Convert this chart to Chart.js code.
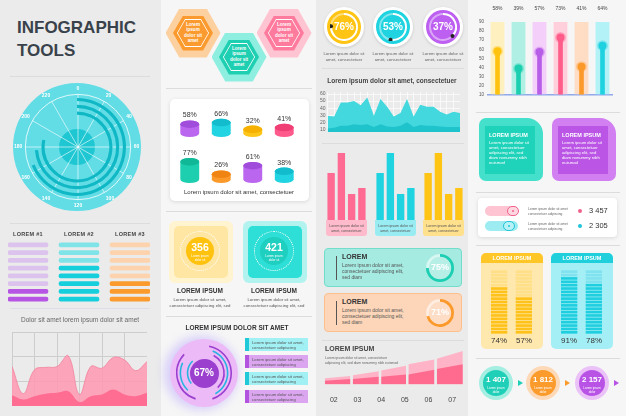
<!DOCTYPE html>
<html lang="en">
<head>
<meta charset="UTF-8">
<title>Infographic Tools</title>
<script src="https://cdn.jsdelivr.net/npm/chart.js"></script>
<style>
  body {
    margin: 0;
    width: 626px;
    height: 416px;
    overflow: hidden;
    position: relative;
    background: #ebebeb;
    font-family: "Liberation Sans", Arial, sans-serif;
    color: #333;
  }
  .t { position: absolute; white-space: nowrap; }
</style>
</head>
<body>
<script>
// ---------- data ----------
const radialTicks = ['0', '20', '40', '60', '80', '100', '120', '140', '160', '180', '200', '220'];
const radialMax = 240;
const radialArcs = [165, 177, 188]; // outer -> inner

const levelTitles = ['LOREM #1', 'LOREM #2', 'LOREM #3'];
const levelRows = ['1', '2', '3', '4', '5', '6', '7', '8'];
const levelFilled = [2, 5, 3];

const waveUpper = [48, 15, 44, 47, 48, 61, 14, 48, 46, 59, 56, 43, 54];
const waveLower = [13, 8, 12, 15, 16, 18, 5, 12, 14, 20, 14, 12, 16];

const cylRow1 = [58, 66, 32, 41];
const cylRow2 = [77, 26, 61, 38];
const cylCats = ['a', 'b', 'c', 'd'];

const counters = ['356', '421'];
const ringLabel = '67%';
const ringSegments = [[3, 42, 10, 32, 13], [6, 36, 20, 20, 18], [8, 30, 62], [64, 24, 12]];

const donutPercents = [76, 53, 37];

const areaUpper = [29, 28, 48, 48, 50, 44, 55, 29, 53, 42, 28, 33, 53, 28, 45, 42, 42, 35, 31, 35, 33];
const areaLower = [11, 12, 15, 15, 17, 16, 17, 13, 17, 14, 13, 15, 20, 13, 16, 15, 15, 14, 13, 13, 13];
const areaTicks = [10, 20, 30, 40, 50, 60];

const groupCats = ['1', '2', '3', '4'];
const barsPink = [47, 67, 26, 32];
const barsCyan = [47, 67, 26, 32];
const barsYellow = [47, 67, 26, 32];

const progressValues = [75, 71];

const stepLabels = ['02', '03', '04', '05', '06', '07'];
const stepStart = [0.12, 1.3, 2.5, 3.65, 4.85];
const stepEnd = [1.2, 2.4, 3.55, 4.75, 5.95];
const stepLightFrom = [8, 12, 18, 26, 33];
const stepLightTo = [11, 17, 24, 32, 43];
const stepDarkFrom = [5, 7, 10, 13, 20];
const stepDarkTo = [7, 10, 13, 19, 26];

const lolliLabels = ['58%', '39%', '57%', '73%', '41%', '64%'];
const lolliValues = [58, 39, 57, 73, 41, 64];

const statValues = ['3 457', '2 305'];
const stripeRows = ['1', '2', '3', '4', '5', '6', '7', '8', '9', '10', '11', '12', '13', '14', '15', '16', '17', '18', '19'];
const stripePercents = [74, 57, 91, 78];
const flowValues = ['1 407', '1 812', '2 157'];

// ---------- helpers ----------
Chart.defaults.font.family = '"Liberation Sans", Arial, sans-serif';
Chart.defaults.animation = false;
Chart.defaults.maintainAspectRatio = false;
Chart.defaults.plugins.legend.display = false;
Chart.defaults.plugins.tooltip.enabled = false;

const CLEAR = 'rgba(0,0,0,0)';
const HEX = 'polygon(25% 0, 75% 0, 100% 50%, 75% 100%, 25% 100%, 0 50%)';
const LOREM = 'Lorem ipsum dolor sit amet,<br>consectetuer adipiscing';

function box(x, y, w, h, css) {
  const d = document.createElement('div');
  d.style.cssText = 'position:absolute;left:' + x + 'px;top:' + y + 'px;width:' + w + 'px;height:' + h + 'px;' + (css || '');
  document.body.appendChild(d);
  return d;
}
function txt(x, y, html, css) {
  const d = document.createElement('div');
  d.className = 't';
  d.style.cssText = 'left:' + x + 'px;top:' + y + 'px;' + (css || '');
  d.innerHTML = html;
  document.body.appendChild(d);
  return d;
}
function txtC(cx, y, html, css) {
  return txt(cx - 70, y, html, 'width:140px;text-align:center;' + (css || ''));
}
function sep(x, y, w, color) { box(x, y, w, 1, 'background:' + (color || '#dcdcdc')); }
function circle(cx, cy, r, css) { return box(cx - r, cy - r, 2 * r, 2 * r, 'border-radius:50%;' + css); }
function canvasAt(x, y, w, h) {
  const c = document.createElement('canvas');
  box(x, y, w, h).appendChild(c);
  return c;
}

// column backgrounds
box(161, 0, 155, 416, 'background:#f6f6f6');
box(468, 0, 158, 416, 'background:#f6f6f6');

// ================= column 1 =================
txt(17, 16, 'INFOGRAPHIC<br>TOOLS', 'font-size:17px;font-weight:bold;color:#39424a;line-height:23px;');
sep(10, 76, 140);

// radial gauge
circle(77, 147, 64, 'background:#62dde6');
circle(77, 147, 18, 'background:#1fc7d3');
new Chart(canvasAt(13, 83, 128, 128), {
  type: 'radar',
  data: { labels: radialTicks, datasets: [{ data: radialTicks.map(() => 0), pointRadius: 0, borderWidth: 0 }] },
  options: {
    scales: {
      r: {
        min: 0, max: 1,
        ticks: { display: false, stepSize: 1 },
        grid: { color: 'rgba(255,255,255,0.8)', circular: true },
        angleLines: { color: 'rgba(255,255,255,0.6)' },
        pointLabels: { color: '#fff', font: { size: 5, weight: 'bold' }, padding: 3 }
      }
    }
  }
});
const radialSets = [];
radialArcs.forEach((v, i) => {
  if (i) radialSets.push({ data: [1], backgroundColor: [CLEAR], borderWidth: 0, weight: 3.5 });
  radialSets.push({ data: [v, radialMax - v], backgroundColor: ['#10b8c5', CLEAR], borderWidth: 0, weight: 3 });
});
new Chart(canvasAt(28, 98, 98, 98), {
  type: 'doughnut',
  data: { datasets: radialSets },
  options: { cutout: '66%' }
});

sep(10, 223, 140);

// level bars
const levelLight = ['#dcc3ee', '#80e3e7', '#fdd3ad'];
const levelDark = ['#b655e3', '#16cfdc', '#fb9a2d'];
[28, 79, 130].forEach((cx, i) => txtC(cx, 231, levelTitles[i], 'font-size:5.5px;font-weight:bold;color:#444;letter-spacing:0.3px'));
new Chart(canvasAt(8, 241, 142, 62), {
  type: 'bar',
  data: {
    labels: levelRows,
    datasets: levelFilled.map((n, ci) => ({
      data: levelRows.map(() => [ci * 1.275, ci * 1.275 + 1]),
      backgroundColor: levelRows.map((_, ri) => ri >= levelRows.length - n ? levelDark[ci] : levelLight[ci]),
      borderRadius: 2, borderSkipped: false, barThickness: 4, grouped: false
    }))
  },
  options: { indexAxis: 'y', scales: { x: { display: false, min: 0, max: 3.55 }, y: { display: false } } }
});

sep(10, 308, 140, '#e0ddea');
txtC(80, 316, 'Dolor sit amet lorem ipsum dolor sit amet', 'font-size:6.5px;color:#666');

// pink wave
new Chart(canvasAt(12, 332, 135, 74), {
  type: 'line',
  data: {
    datasets: [
      { data: waveLower.map((v, i) => ({ x: i, y: v })), fill: 'origin', backgroundColor: '#ff6d93', borderWidth: 0, pointRadius: 0, tension: 0.4 },
      { data: waveUpper.map((v, i) => ({ x: i, y: v })), fill: 'origin', backgroundColor: 'rgba(255,152,178,0.85)', borderColor: '#f2809c', borderWidth: 0.8, pointRadius: 0, tension: 0.4 }
    ]
  },
  options: {
    scales: {
      x: { type: 'linear', min: 0, max: 12, ticks: { display: false, stepSize: 2 }, grid: { color: '#cdcdcd', drawTicks: false }, border: { display: false } },
      y: { min: 0, max: 90, ticks: { display: false, stepSize: 30 }, grid: { color: '#cdcdcd', drawTicks: false }, border: { display: false } }
    }
  }
});

// ================= column 2 =================
function hexagon(cx, cy, outer, inner) {
  box(cx - 27.5, cy - 24.5, 55, 49, 'clip-path:' + HEX + ';background:' + outer);
  box(cx - 20, cy - 17.5, 40, 35, 'clip-path:' + HEX + ';background:' + inner);
  box(cx - 16, cy - 14, 32, 28, 'clip-path:' + HEX + ';background:#fff');
  box(cx - 15.2, cy - 13.2, 30.4, 26.4, 'clip-path:' + HEX + ';background:' + inner);
  txtC(cx, cy - 11, 'Lorem<br>ipsum<br>dolor sit<br>amet', 'font-size:4.6px;font-weight:bold;color:#fff;line-height:5.4px');
}
hexagon(193, 33, '#fdd0a0', '#fb9a2e');
hexagon(284, 33, '#ffc4d2', '#ff7b9d');
hexagon(239, 57, '#8eeedf', '#1ecfb1');

sep(166, 88, 146);

// cylinders card
box(170, 99, 139, 102, 'background:#fff;border-radius:5px;box-shadow:0 1px 4px rgba(0,0,0,0.12)');
const cylinderPlugin = {
  id: 'cylinders',
  afterDatasetsDraw(chart) {
    const ctx = chart.ctx;
    const ds = chart.data.datasets[0];
    chart.getDatasetMeta(0).data.forEach((bar, i) => {
      const w = bar.width, x = bar.x, top = bar.y, base = bar.base, rx = w / 2, ry = w * 0.2;
      ctx.save();
      ctx.fillStyle = ds.bodyColors[i];
      ctx.beginPath();
      ctx.moveTo(x - rx, top + ry);
      ctx.lineTo(x - rx, base - ry);
      ctx.ellipse(x, base - ry, rx, ry, 0, Math.PI, 0, true);
      ctx.lineTo(x + rx, top + ry);
      ctx.ellipse(x, top + ry, rx, ry, 0, 0, Math.PI, true);
      ctx.closePath();
      ctx.fill();
      ctx.fillStyle = ds.topColors[i];
      ctx.beginPath();
      ctx.ellipse(x, top + ry, rx, ry, 0, 0, Math.PI * 2);
      ctx.fill();
      ctx.fillStyle = '#333';
      ctx.font = '7px "Liberation Sans", Arial, sans-serif';
      ctx.textAlign = 'center';
      ctx.fillText(ds.data[i] + '%', x, top - 3);
      ctx.restore();
    });
  }
};
function cylinders(canvas, values, bodies, tops, max, padTop) {
  new Chart(canvas, {
    type: 'bar',
    data: { labels: cylCats, datasets: [{ data: values, base: -25, backgroundColor: CLEAR, bodyColors: bodies, topColors: tops, barPercentage: 0.6, categoryPercentage: 1 }] },
    options: { layout: { padding: { top: padTop, bottom: 1 } }, scales: { x: { display: false }, y: { display: false, min: -25, max: max } } },
    plugins: [cylinderPlugin]
  });
}
cylinders(canvasAt(174, 104, 126, 34), cylRow1,
  ['#bb66ee', '#22d3e2', '#ffc61a', '#ff5a8c'], ['#a14ddb', '#12bccc', '#f5b000', '#ef3f75'], 80, 12);
cylinders(canvasAt(174, 146, 126, 38), cylRow2,
  ['#1dcfae', '#fb9a2b', '#bb66ee', '#22d3e2'], ['#10b898', '#f08412', '#a14ddb', '#12bccc'], 85, 10);
txtC(239, 189, 'Lorem ipsum dolor sit amet, consectetuer', 'font-size:6px;color:#333');

sep(166, 211, 146);

// counters
[{ x: 169, cx: 200, outer: '#fff3d0', inner: '#ffe6a3', disc: '#ffc20f' },
 { x: 243, cx: 274, outer: '#b3f3ef', inner: '#2ddfd6', disc: '#1fcfc0' }].forEach((c, i) => {
  box(c.x, 221, 64, 62, 'background:' + c.outer + ';border-radius:6px');
  box(c.x + 5, 226, 54, 52, 'background:' + c.inner + ';border-radius:5px');
  circle(c.cx, 251, 20, 'border:1.3px dotted #fff;box-sizing:border-box');
  circle(c.cx, 251, 14, 'background:' + c.disc);
  txtC(c.cx, 241, counters[i], 'font-size:10.5px;font-weight:bold;color:#fff');
  txtC(c.cx, 254, 'Lorem ipsum<br>dolor sit', 'font-size:3px;color:#fff;line-height:4px');
  txtC(c.cx, 287, 'LOREM IPSUM', 'font-size:6.5px;font-weight:bold;color:#333');
  txtC(c.cx, 297, 'Lorem ipsum dolor sit amet,<br>consectetuer adipiscing elit, sed', 'font-size:4.3px;color:#555;line-height:6px');
});

sep(166, 316, 146);
txtC(237, 324, 'LOREM IPSUM DOLOR SIT AMET', 'font-size:6.5px;font-weight:bold;color:#333');

// purple rings
circle(204, 373, 34, 'background:#ecbaf7;box-shadow:-3px 0 10px 3px rgba(180,160,255,0.45)');
const ringColors = ['#9b3fd0', '#26b5df', '#9b3fd0', '#26b5df'];
const ringSets = [];
ringSegments.forEach((seg, i) => {
  if (i) ringSets.push({ data: [1], backgroundColor: [CLEAR], borderWidth: 0, weight: 2 });
  ringSets.push({ data: seg, backgroundColor: seg.map((_, k) => k % 2 ? ringColors[i] : CLEAR), borderWidth: 0, weight: 1.6 });
});
new Chart(canvasAt(176, 345, 56, 56), { type: 'doughnut', data: { datasets: ringSets }, options: { cutout: '56%' } });
circle(204, 373, 14.5, 'background:#9b3fcf');
txtC(204, 367, ringLabel, 'font-size:10px;font-weight:bold;color:#fff');

// list boxes
[{ y: 338, bg: '#a0f0f4', bar: '#1fc9d8' }, { y: 355, bg: '#dba5f0', bar: '#b254e0' },
 { y: 372, bg: '#a0f0f4', bar: '#1fc9d8' }, { y: 390, bg: '#dba5f0', bar: '#b254e0' }].forEach(b => {
  box(245, b.y, 63, 13, 'background:' + b.bg);
  box(245, b.y, 4, 13, 'background:' + b.bar);
  txt(252, b.y + 1.5, LOREM, 'font-size:4.2px;color:#555;line-height:5px');
});

// ================= column 3 =================
const donutColors = ['#ffc414', '#1fd3e0', '#bd5ff0'];
const endDotPlugin = {
  id: 'endDot',
  afterDatasetsDraw(chart) {
    const arc = chart.getDatasetMeta(0).data[0];
    const r = (arc.innerRadius + arc.outerRadius) / 2;
    const ctx = chart.ctx;
    ctx.save();
    ctx.fillStyle = '#222';
    ctx.beginPath();
    ctx.arc(arc.x + r * Math.cos(arc.endAngle), arc.y + r * Math.sin(arc.endAngle), 2, 0, Math.PI * 2);
    ctx.fill();
    ctx.restore();
  }
};
[344, 393, 443].forEach((cx, i) => {
  circle(cx, 27, 20, 'background:#fff;box-shadow:0 1px 3px rgba(0,0,0,0.15)');
  circle(cx, 27, 17, 'background:' + donutColors[i]);
  new Chart(canvasAt(cx - 14, 13, 28, 28), {
    type: 'doughnut',
    data: { datasets: [{ data: [donutPercents[i], 100 - donutPercents[i]], backgroundColor: ['#fff', 'rgba(255,255,255,0.45)'], borderWidth: 0 }] },
    options: { cutout: '86%' },
    plugins: [endDotPlugin]
  });
  txtC(cx, 21, donutPercents[i] + '%', 'font-size:10px;font-weight:bold;color:#fff');
  txtC(cx, 51, 'Lorem ipsum dolor sit<br>amet, consectetuer', 'font-size:4.3px;color:#666;line-height:6px');
});

sep(322, 68, 142);
txtC(392, 77, 'Lorem ipsum dolor sit amet, consectetuer', 'font-size:6.5px;font-weight:bold;color:#444');

// cyan area
new Chart(canvasAt(318, 87, 142, 50), {
  type: 'line',
  data: {
    datasets: [
      { data: areaLower.map((v, i) => ({ x: i, y: v })), fill: 'origin', backgroundColor: '#1fc3cc', borderWidth: 0, pointRadius: 0 },
      { data: areaUpper.map((v, i) => ({ x: i, y: v })), fill: 'origin', backgroundColor: '#42d8de', borderWidth: 0, pointRadius: 0 }
    ]
  },
  options: {
    scales: {
      x: { type: 'linear', min: 0, max: 20, ticks: { display: false, stepSize: 1 }, grid: { color: 'rgba(255,255,255,0.7)', drawTicks: false }, border: { display: false } },
      y: {
        min: 6, max: 63,
        afterBuildTicks: a => { a.ticks = areaTicks.map(v => ({ value: v })); },
        ticks: { autoSkip: false, font: { size: 5 }, color: '#666', padding: 2 },
        grid: { color: 'rgba(255,255,255,0.7)', drawTicks: false }, border: { display: false }
      }
    }
  }
});

sep(322, 143, 142);

// bar groups
function barGroup(x, values, color, light) {
  new Chart(canvasAt(x, 146, 41, 74), {
    type: 'bar',
    data: { labels: groupCats, datasets: [{ data: values, backgroundColor: color, barPercentage: 0.72, categoryPercentage: 1 }] },
    options: { scales: { x: { display: false }, y: { display: false, min: 0, max: 74 } } }
  });
  box(x, 220, 41, 16, 'background:' + light + ';border-radius:0 0 3px 3px');
  txtC(x + 20.5, 224, 'Lorem ipsum dolor sit<br>amet, consectetuer', 'font-size:3.6px;color:#555;line-height:4.5px');
}
barGroup(326, barsPink, '#ff6b93', '#ffbacb');
barGroup(375, barsCyan, '#1fd3e0', '#9aecf3');
barGroup(423, barsYellow, '#ffc414', '#ffe08c');

// progress boxes
[{ y: 248, bg: '#a5ebe1', border: '#74dccb', ring: '#1ccfb3' },
 { y: 293, bg: '#fdd5b8', border: '#fcc08f', ring: '#fb9a2b' }].forEach((p, i) => {
  box(324, p.y, 138, 39, 'background:' + p.bg + ';border:1px solid ' + p.border + ';border-radius:4px;box-sizing:border-box');
  box(336, p.y + 8, 1, 24, 'background:#555');
  txt(342, p.y + 5, 'LOREM', 'font-size:7px;font-weight:bold;color:#333');
  txt(342, p.y + 15, 'Lorem ipsum dolor sit amet,<br>consectetuer adipiscing elit,<br>sed diam', 'font-size:5px;color:#555;line-height:5.8px');
  circle(440, p.y + 20, 13, 'background:rgba(255,255,255,0.2)');
  new Chart(canvasAt(426, p.y + 6, 28, 28), {
    type: 'doughnut',
    data: { datasets: [{ data: [progressValues[i], 100 - progressValues[i]], backgroundColor: [p.ring, 'rgba(255,255,255,0.5)'], borderWidth: 0 }] },
    options: { cutout: '80%' }
  });
  txtC(440, p.y + 14, progressValues[i] + '%', 'font-size:9px;font-weight:bold;color:#fff');
});

sep(322, 340, 142);
txt(325, 345, 'LOREM IPSUM', 'font-size:7px;font-weight:bold;color:#444');
txt(325, 356, 'Lorem ipsum dolor sit amet, consectetuer<br>adipiscing elit, sed diam nonummy nibh euismod', 'font-size:3.4px;color:#666;line-height:5px');

// step chart
function stepData(from, to) {
  const pts = [];
  stepStart.forEach((s, j) => {
    pts.push({ x: s, y: from[j] }, { x: stepEnd[j], y: to[j] });
    if (j < stepStart.length - 1) pts.push({ x: (stepEnd[j] + stepStart[j + 1]) / 2, y: null });
  });
  return pts;
}
new Chart(canvasAt(322, 347, 142, 62), {
  type: 'line',
  data: {
    datasets: [
      { data: stepData(stepDarkFrom, stepDarkTo), fill: 'origin', backgroundColor: '#ff6a8f', borderWidth: 0, pointRadius: 0, spanGaps: false },
      { data: stepData(stepLightFrom, stepLightTo), fill: 'origin', backgroundColor: '#ffb3c6', borderWidth: 0, pointRadius: 0, spanGaps: false }
    ]
  },
  options: {
    layout: { padding: { bottom: 2 } },
    scales: {
      x: {
        type: 'linear', min: 0, max: 6,
        afterBuildTicks: a => { a.ticks = stepLabels.map((_, i) => ({ value: i + 0.5 })); },
        ticks: { callback: (v, i) => stepLabels[i], font: { size: 7 }, color: '#444', padding: 3 },
        grid: { display: false }, border: { display: false }
      },
      y: { display: false, min: 0, max: 48 }
    }
  }
});

// ================= column 4 =================
const lolliStrong = ['#ffc30f', '#1ccfb0', '#b65ee8', '#ff5d8a', '#fb9a2b', '#1ed2e0'];
const lolliHalo = ['rgba(255,195,15,0.35)', 'rgba(28,207,176,0.35)', 'rgba(182,94,232,0.35)', 'rgba(255,93,138,0.35)', 'rgba(251,154,43,0.35)', 'rgba(30,210,224,0.35)'];
const lolliLight = ['#fff0c0', '#b0f0e4', '#f3cff9', '#ffd0dc', '#ffdcc4', '#b3f2f6'];
new Chart(canvasAt(474, 4, 146, 98), {
  type: 'bar',
  data: {
    labels: lolliLabels,
    datasets: [
      { type: 'line', data: lolliValues, showLine: false, pointRadius: 4, pointBorderWidth: 3, pointBackgroundColor: lolliStrong, pointBorderColor: lolliHalo },
      { data: lolliValues, base: 10, backgroundColor: lolliStrong, barThickness: 4, grouped: false },
      { data: lolliValues.map(() => 90), base: 10, backgroundColor: lolliLight, barPercentage: 0.66, categoryPercentage: 1, grouped: false }
    ]
  },
  options: {
    layout: { padding: { left: 2, right: 2 } },
    scales: {
      x: { position: 'top', grid: { display: false }, border: { display: false }, ticks: { font: { size: 5 }, color: '#444', padding: 2 } },
      y: {
        min: 10, max: 90,
        ticks: { stepSize: 10, autoSkip: false, font: { size: 4.5 }, color: '#555', padding: 3 },
        grid: { color: c => c.tick.value === 10 ? '#8fa8ea' : CLEAR, lineWidth: 1.5, drawTicks: false },
        border: { display: false }
      }
    }
  }
});

sep(476, 112, 144);

// cards
[{ x: 479, outer: '#45e0cc', inner: '#1fd3bb' }, { x: 552, outer: '#d27ff2', inner: '#bb55e6' }].forEach(c => {
  box(c.x, 118, 64, 63, 'background:' + c.outer + ';border-radius:7px 16px 7px 7px');
  box(c.x + 6, 126, 50, 48, 'background:' + c.inner);
  txt(c.x + 10, 132, 'LOREM IPSUM', 'font-size:5.5px;font-weight:bold;color:#fff');
  txt(c.x + 10, 141, 'Lorem ipsum dolor sit<br>amet, consectetuer<br>adipiscing elit, sed<br>diam nonummy nibh<br>euismod', 'font-size:4.2px;color:#fff;line-height:4.9px');
});

sep(476, 192, 144);

// toggles card
box(478, 198, 139, 39, 'background:#fff;border-radius:4px;box-shadow:0 1px 4px rgba(0,0,0,0.12)');
[{ y: 206, pill: '#ffc4d1', knob: '#f0628d', fill: '#ffd7e0', kx: 507 },
 { y: 221, pill: '#9decf2', knob: '#1fc5d8', fill: '#b8f2f6', kx: 503 }].forEach((t, i) => {
  box(485, t.y, 33, 10, 'border-radius:5px;background:' + t.pill);
  box(t.kx, t.y, 12, 10, 'border-radius:5px;border:1.2px solid ' + t.knob + ';box-sizing:border-box;background:' + t.fill);
  circle(t.kx + 6, t.y + 5, 1.2, 'background:' + t.knob);
  txt(528, t.y + 1, 'Lorem ipsum dolor sit amet<br>consectetuer adipiscing', 'font-size:3.3px;color:#666;line-height:4.5px');
  circle(580, t.y + 5, 2.3, 'background:' + t.knob);
  txt(589, t.y, statValues[i], 'font-size:7.5px;color:#333');
});

sep(476, 245, 144);

// striped panels
function stripes(canvas, pcts, dark, light) {
  new Chart(canvas, {
    type: 'bar',
    data: {
      labels: stripeRows,
      datasets: pcts.map((p, ci) => {
        const filled = Math.round(p / 100 * stripeRows.length);
        return {
          data: stripeRows.map(() => [ci * 1.5625, ci * 1.5625 + 1]),
          backgroundColor: stripeRows.map((_, ri) => ri >= stripeRows.length - filled ? dark : light),
          barThickness: 2, grouped: false
        };
      })
    },
    options: { indexAxis: 'y', scales: { x: { display: false, min: 0, max: 2.5625 }, y: { display: false } } }
  });
}
[{ x: 481, body: '#ffe8ae', head: '#ffc627', dark: '#ffc21a', light: '#ffdf88' },
 { x: 551, body: '#a4eff5', head: '#1fd0dc', dark: '#1fcfe0', light: '#7fe2ee' }].forEach((p, i) => {
  box(p.x, 253, 62, 96, 'background:' + p.body + ';border-radius:5px');
  box(p.x, 253, 62, 10, 'background:' + p.head + ';border-radius:5px 5px 0 0');
  txtC(p.x + 31, 255, 'LOREM IPSUM', 'font-size:5.5px;font-weight:bold;color:#fff');
  stripes(canvasAt(p.x + 10, 270, 41, 64), stripePercents.slice(i * 2, i * 2 + 2), p.dark, p.light);
  txtC(p.x + 18, 336, stripePercents[i * 2] + '%', 'font-size:8px;color:#333');
  txtC(p.x + 43, 336, stripePercents[i * 2 + 1] + '%', 'font-size:8px;color:#333');
});

sep(476, 358, 144);

// flow circles
[{ cx: 496, halo: '#a5eee2', disc: '#1fcfb7' }, { cx: 543, halo: '#fdd9b8', disc: '#fb9b2b' },
 { cx: 592, halo: '#ebc2f7', disc: '#b853e6' }].forEach((f, i) => {
  circle(f.cx, 383, 17, 'background:' + f.halo);
  circle(f.cx, 383, 13, 'background:' + f.disc);
  txtC(f.cx, 375, flowValues[i], 'font-size:8px;font-weight:bold;color:#fff');
  txtC(f.cx, 386, 'Lorem ipsum<br>dolor', 'font-size:3px;color:#fff;line-height:4px');
  box(f.cx + 22, 380, 0, 0, 'border-top:3.5px solid transparent;border-bottom:3.5px solid transparent;border-left:5px solid ' + f.disc);
});
</script>
</body>
</html>
